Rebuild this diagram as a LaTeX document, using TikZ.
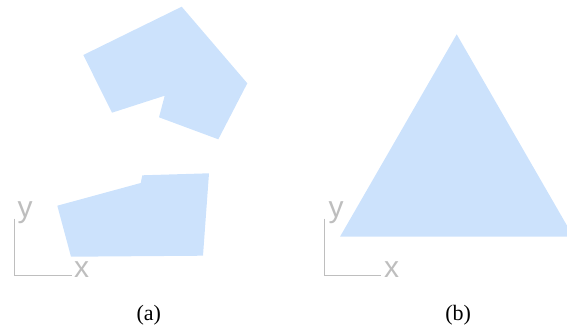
\documentclass[tikz,border=0pt]{standalone}
\usepackage{fontspec}
\setmainfont{Liberation Serif}
\newfontfamily\axisfont{Liberation Sans}
\definecolor{shapefill}{RGB}{204,226,252}
\definecolor{axisgray}{RGB}{190,190,190}
\begin{document}
\begin{tikzpicture}[x=1pt,y=-1pt,
  shapestyle/.style={fill=shapefill,draw=none},
  axisline/.style={draw=axisgray,line width=0.8pt},
  axislabel/.style={inner sep=0pt,anchor=base west,text=axisgray,font=\axisfont\fontsize{30}{30}\selectfont},
  caption/.style={inner sep=0pt,anchor=base,font=\fontsize{22}{22}\selectfont}]
\useasboundingbox (0,0) rectangle (567,327);
% (a) upper polygon
\fill[shapestyle] (83.3,55) -- (181.7,6.7) -- (247.3,83.3) -- (218.3,139.3) -- (159,117.3) -- (164.7,95.7) -- (112,112.7) -- cycle;
% (a) lower polygon
\fill[shapestyle] (57.3,205.7) -- (140.7,183) -- (142.3,175.3) -- (209,173.3) -- (203,255.7) -- (71,256.7) -- cycle;
% (b) triangle
\fill[shapestyle] (456.7,34.3) -- (573.4,236.7) -- (340,236.7) -- cycle;
% axes (a)
\coordinate (ay) at (14.7,218.5);
\coordinate (ao) at (14.7,275.2);
\coordinate (ax) at (71.5,275.2);
\draw[axisline] (ay) -- (ao) -- (ax);
\node[axislabel] (aylab) at (17.5,217.5) {y};
\node[axislabel] (axlab) at (74,277.5) {x};
% axes (b)
\coordinate (by) at (324.3,218.5);
\coordinate (bo) at (324.3,275.2);
\coordinate (bx) at (381,275.2);
\draw[axisline] (by) -- (bo) -- (bx);
\node[axislabel] (bylab) at (328.5,217.5) {y};
\node[axislabel] (bxlab) at (384,277.5) {x};
% captions
\node[caption] (capa) at (148.8,320) {(a)};
\node[caption] (capb) at (458.2,320) {(b)};
\end{tikzpicture}
\end{document}
